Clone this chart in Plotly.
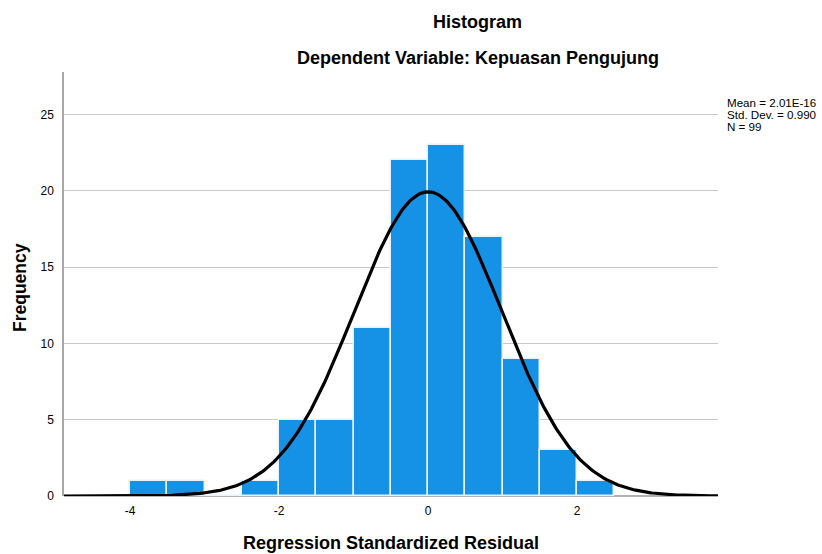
import numpy as np
import plotly.graph_objects as go

# Histogram bins (left edges) and counts
bin_left = [-4.0, -3.5, -3.0, -2.5, -2.0, -1.5, -1.0, -0.5, 0.0, 0.5, 1.0, 1.5, 2.0]
counts = [1, 1, 0, 1, 5, 5, 11, 22, 23, 17, 9, 3, 1]
bin_width = 0.5

# Summary statistics shown on chart
mean_val = 2.01e-16
std_val = 0.990
n_val = 99
stat_lines = ["Mean = 2.01E-16", "Std. Dev. = 0.990", "N = 99"]

x_ticks = [-4, -2, 0, 2]
y_ticks = [0, 5, 10, 15, 20, 25]

x_range = [-4.886, 3.89]
y_range = [0, 27.8]

centers = [b + bin_width / 2 for b in bin_left]

# Normal curve scaled to the histogram
xs = np.linspace(x_range[0], x_range[1], 400)
ys = n_val * bin_width / (std_val * np.sqrt(2 * np.pi)) * np.exp(-0.5 * ((xs - mean_val) / std_val) ** 2)

fig = go.Figure()
fig.add_trace(go.Bar(
    x=centers, y=counts, width=bin_width,
    marker=dict(color="#1591E6", line=dict(color="#E8F2FC", width=1.5)),
    hoverinfo="x+y", showlegend=False,
))
fig.add_trace(go.Scatter(
    x=xs, y=ys, mode="lines",
    line=dict(color="black", width=3.2),
    hoverinfo="skip", showlegend=False,
))

font_family = "Liberation Sans, Arial, sans-serif"

annotations = [
    dict(text="<b>Histogram</b>", x=0.633, y=1.118, xref="paper", yref="paper",
         showarrow=False, font=dict(size=18), xanchor="center", yanchor="middle"),
    dict(text="<b>Dependent Variable: Kepuasan Pengujung</b>", x=0.633, y=1.033,
         xref="paper", yref="paper", showarrow=False, font=dict(size=18),
         xanchor="center", yanchor="middle"),
    dict(text="<b>Frequency</b>", x=-0.067, y=0.491, xref="paper", yref="paper",
         showarrow=False, font=dict(size=17.5), textangle=-90,
         xanchor="center", yanchor="middle"),
    dict(text="<b>Regression Standardized Residual</b>", x=0.5, y=-0.111,
         xref="paper", yref="paper", showarrow=False, font=dict(size=18),
         xanchor="center", yanchor="middle"),
]
for i, s in enumerate(stat_lines):
    py = 102 + 12 * i
    annotations.append(dict(
        text=s, x=(726 - 64) / 654, y=(496 - py) / 424, xref="paper", yref="paper",
        showarrow=False, xanchor="left", yanchor="middle", font=dict(size=11.6),
        borderpad=0,
    ))

fig.update_layout(
    width=822, height=554,
    margin=dict(l=64, r=104, t=72, b=58),
    paper_bgcolor="white", plot_bgcolor="white",
    font=dict(family=font_family, color="black", size=12),
    bargap=0,
    xaxis=dict(
        range=x_range, tickvals=x_ticks, ticktext=[str(v) for v in x_ticks],
        showgrid=False, zeroline=False, showline=False,
        ticks="", tickfont=dict(size=12), ticklabelstandoff=6,
    ),
    yaxis=dict(
        range=y_range, tickvals=y_ticks, ticktext=[str(v) for v in y_ticks],
        showgrid=True, gridcolor="#C9C9C9", gridwidth=1,
        zeroline=True, zerolinecolor="#B0B0B0", zerolinewidth=1.5,
        showline=True, linecolor="#A8A8A8", linewidth=1.5,
        ticks="", tickfont=dict(size=12), ticklabelstandoff=6,
    ),
    annotations=annotations,
)

fig.write_html(
    "out.html",
    config={"displayModeBar": False},
    post_script="document.body.style.margin='0';document.body.style.overflow='hidden';",
)
